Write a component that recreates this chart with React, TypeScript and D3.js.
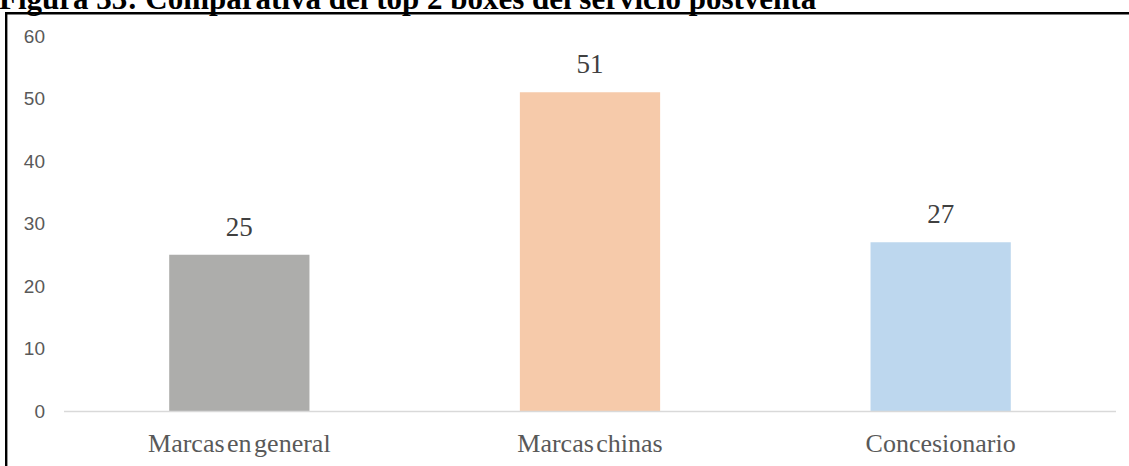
import React from "react";
import * as d3 from "d3";

const categories = ["Marcas en general", "Marcas chinas", "Concesionario"];
const values = [25, 51, 27];
const colors = ["#ADADAB", "#F6CAAA", "#BDD7EE"];
const yTicks = [0, 10, 20, 30, 40, 50, 60];
const title = "Figura 33: Comparativa del top 2 boxes del servicio postventa";

export default function App() {
  const W = 1129, H = 466;
  const x = d3.scaleBand<string>().domain(categories).range([64, 1116]).paddingInner(0.6).paddingOuter(0.3);
  const y = d3.scaleLinear().domain([0, 60]).range([411, 36]);
  return (
    <svg width={W} height={H} style={{ position: "absolute", left: 0, top: 0, background: "#fff" }}>
      <rect x={0} y={0} width={W} height={H} fill="#fff" />
      <text x={-1} y={8.5} fontFamily="'Liberation Serif', 'Times New Roman', serif" fontWeight="bold" fontSize={31} fill="#000">{title}</text>
      <line x1={5} x2={W} y1={13.2} y2={13.2} stroke="#000" strokeWidth={2.5} />
      <line x1={6.2} x2={6.2} y1={12} y2={H} stroke="#000" strokeWidth={2.4} />
      {yTicks.map((t) => (
        <text key={t} x={45} y={y(t)} dy="0.36em" textAnchor="end" fontFamily="'Liberation Sans', Arial, sans-serif" fontSize={19} fill="#595959">{t}</text>
      ))}
      {categories.map((c, i) => (
        <g key={c}>
          <rect x={x(c)} y={y(values[i])} width={x.bandwidth()} height={y(0) - y(values[i])} fill={colors[i]} />
          <text x={(x(c) as number) + x.bandwidth() / 2} y={y(values[i]) - 19} textAnchor="middle" fontFamily="'Liberation Serif', 'Times New Roman', serif" fontSize={27} fill="#404040">{values[i]}</text>
          <text x={(x(c) as number) + x.bandwidth() / 2} y={452} textAnchor="middle" fontFamily="'Liberation Serif', 'Times New Roman', serif" fontSize={26} wordSpacing={-4} fill="#595959">{c}</text>
        </g>
      ))}
      <line x1={64} x2={1116} y1={y(0) + 0.5} y2={y(0) + 0.5} stroke="#D9D9D9" strokeWidth={1.5} />
    </svg>
  );
}
